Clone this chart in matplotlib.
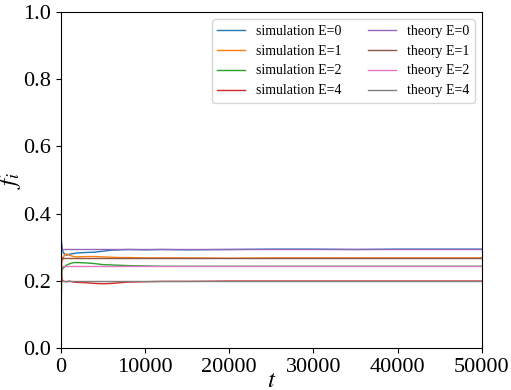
import numpy as np
import matplotlib.pyplot as plt

plt.rcParams['font.family'] = ['Liberation Serif', 'DejaVu Serif']
plt.rcParams['mathtext.fontset'] = 'stix'

# simulation traces, values
t_sim = [0, 100, 200, 400, 700, 1000, 1500, 2000, 3000, 4000, 5000, 6000,
         7000, 8000, 10000, 12000, 15000, 20000, 25000, 30000, 35000,
         40000, 45000, 50000]
sim_e0 = [0.33, 0.31, 0.29, 0.28, 0.276, 0.279, 0.281, 0.283, 0.284, 0.285,
          0.288, 0.291, 0.292, 0.293, 0.292, 0.293, 0.292, 0.293, 0.294,
          0.294, 0.293, 0.294, 0.294, 0.294]
sim_e1 = [0.0, 0.27, 0.26, 0.275, 0.28, 0.276, 0.272, 0.271, 0.272, 0.272,
          0.271, 0.270, 0.269, 0.269, 0.268, 0.268, 0.268, 0.267, 0.268,
          0.268, 0.268, 0.268, 0.268, 0.268]
sim_e2 = [0.0, 0.23, 0.235, 0.24, 0.247, 0.25, 0.254, 0.254, 0.253, 0.251,
          0.248, 0.247, 0.246, 0.245, 0.244, 0.243, 0.243, 0.243, 0.243,
          0.243, 0.243, 0.243, 0.243, 0.243]
sim_e4 = [0.5, 0.21, 0.2, 0.198, 0.197, 0.199, 0.196, 0.195, 0.194, 0.192,
          0.191, 0.192, 0.194, 0.196, 0.197, 0.198, 0.198, 0.199, 0.199,
          0.199, 0.199, 0.199, 0.199, 0.199]

# theory levels
t_theory = [0, 50000]
theory_levels = [0.295, 0.268, 0.243, 0.199]
energies = [0, 1, 2, 4]

fig = plt.figure(figsize=(5.11, 3.9), dpi=100)
ax = fig.add_axes([0.119, 0.108, 0.824, 0.861])

for E, vals in zip(energies, [sim_e0, sim_e1, sim_e2, sim_e4]):
    ax.plot(t_sim, vals, lw=1, label=f'simulation E={E}')
for E, lev in zip(energies, theory_levels):
    ax.plot(t_theory, [lev, lev], lw=1, label=f'theory E={E}')

ax.set_xlim(0, 50000)
ax.set_ylim(0, 1)
ax.tick_params(labelsize=16)
ax.set_xlabel('$t$', fontsize=18, labelpad=-5)
ax.set_ylabel('$f_i$', fontsize=18, labelpad=0)
ax.legend(ncol=2, fontsize=10, loc='upper right', columnspacing=1.9,
          handlelength=2.0)

fig.savefig('out.png', dpi=100)
